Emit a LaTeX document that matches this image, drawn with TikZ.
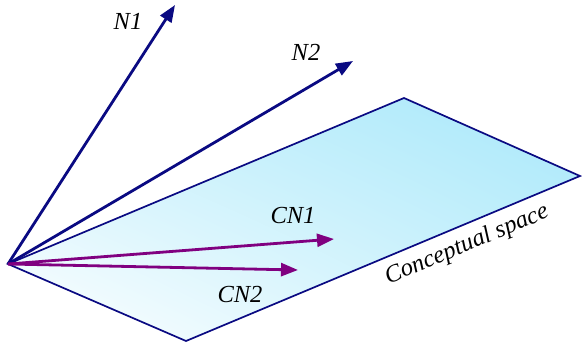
\documentclass[tikz,border=0pt]{standalone}
\usepackage{fontspec}
\newfontfamily\lserif{Liberation Serif}[ItalicFont={Liberation Serif Italic}]
\usetikzlibrary{arrows.meta,shadings}
\definecolor{navyline}{RGB}{10,10,130}
\definecolor{purpleline}{RGB}{128,0,128}
\definecolor{planecyan}{RGB}{168,232,250}
\tikzset{
  vec/.style={line width=2.8pt,-{Triangle[length=17pt,width=13pt]}},
  lbl/.style={font=\lserif\itshape\fontsize{24.5}{28}\selectfont,inner sep=0pt}
}
\begin{document}
\begin{tikzpicture}[x=1pt,y=-1pt]
\useasboundingbox (0,0) rectangle (582,343);
\coordinate (O) at (8,264);
\coordinate (TR) at (404,98);
\coordinate (R) at (580,176);
\coordinate (B) at (186,341);
\shade[upper right=planecyan, lower left=white, upper left=planecyan!55!white, lower right=planecyan!60!white]
  (O) -- (TR) -- (R) -- (B) -- cycle;
\draw[navyline,line width=1.7pt,line join=miter] (O) -- (TR) -- (R) -- (B) -- cycle;
\coordinate (n1) at (175,5);
\coordinate (n2) at (353,61);
\coordinate (cn1) at (334,239);
\coordinate (cn2) at (298,270);
\draw[vec,navyline] (O) -- (n1);
\draw[vec,navyline] (O) -- (n2);
\draw[vec,purpleline] (O) -- (cn1);
\draw[vec,purpleline] (O) -- (cn2);
\node[lbl] (l1) at (128,21) {N1};
\node[lbl] (l2) at (306,52) {N2};
\node[lbl] (l3) at (293,216) {CN1};
\node[lbl] (l4) at (240,294) {CN2};
\node[lbl,rotate=22.7] (l5) at (467,245) {Conceptual space};
\end{tikzpicture}
\end{document}
